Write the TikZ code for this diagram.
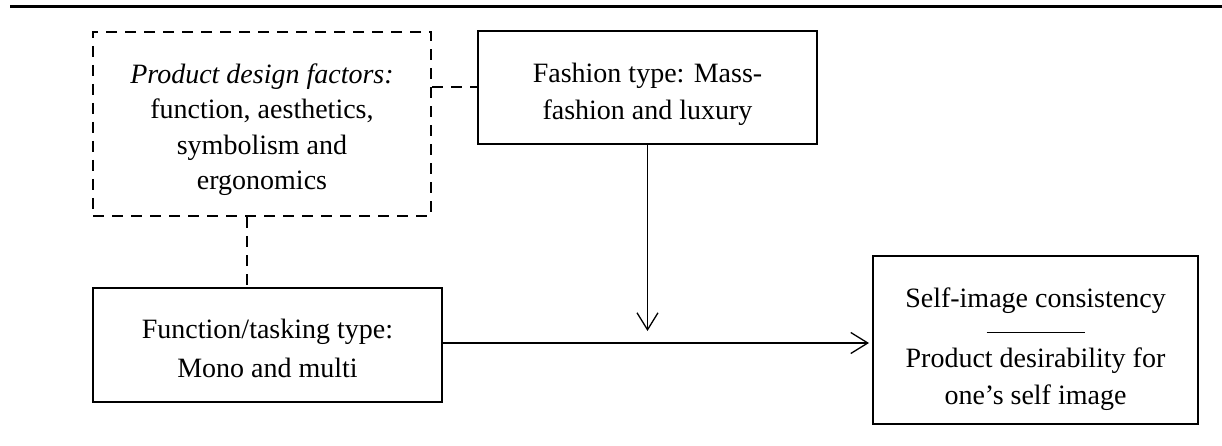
\documentclass[tikz,border=0pt]{standalone}
\usepackage{fontspec}
\setmainfont{Liberation Serif}
\usetikzlibrary{arrows.meta}
\begin{document}
\begin{tikzpicture}[x=1pt,y=-1pt,
  box/.style={draw, line width=2pt, rectangle, inner sep=0pt},
  dbox/.style={box, dash pattern=on 11pt off 8pt},
  dline/.style={line width=2pt, dash pattern=on 11pt off 8pt},
  txt/.style={inner sep=0pt, align=center, anchor=north, font=\fontsize{28}{37}\selectfont},
  arr/.style={line width=1.3pt, -{Straight Barb[length=17pt,width=21pt,line width=1.3pt]}},
]
\useasboundingbox (0,0) rectangle (1222,446);
\draw[line width=3.3pt] (10,6.7) -- (1222,6.7);

\node[dbox, minimum width=338pt, minimum height=184pt] (pdf) at (262,124) {};
\node[box, minimum width=339pt, minimum height=113pt] (fash) at (647.5,87.5) {};
\node[box, minimum width=349pt, minimum height=114pt] (func) at (267.5,345) {};
\node[box, minimum width=325pt, minimum height=168pt] (self) at (1035.5,340) {};

\node[txt, font=\fontsize{28}{35.5}\selectfont] (pdftext) at (262,63.4)
  {\textit{Product design factors:}\\function, aesthetics,\\symbolism and\\ergonomics};
\node[txt] (fashtext) at (647.5,62.6) {Fashion type: Mass-\\fashion and luxury};
\node[txt, font=\fontsize{28}{39}\selectfont] (functext) at (267.5,319) {Function/tasking type:\\Mono and multi};
\node[txt] (selftext) at (1035.5,288)
  {Self-image consistency\\[-12pt]\rule{98pt}{0.8pt}\\[-2pt]Product desirability for\\one’s self image};

\coordinate (hy) at (0,343);
\coordinate (dv) at (247,0);
\coordinate (vt) at (647.5,331);
\draw[dline] (pdf.east |- fash.west) -- (fash.west);
\draw[dline] (dv |- pdf.south) -- (dv |- func.north);
\draw[arr] (fash.south) -- (vt);
\draw[arr, shorten >=3pt] (func.east |- hy) -- (self.west |- hy);
\end{tikzpicture}
\end{document}
